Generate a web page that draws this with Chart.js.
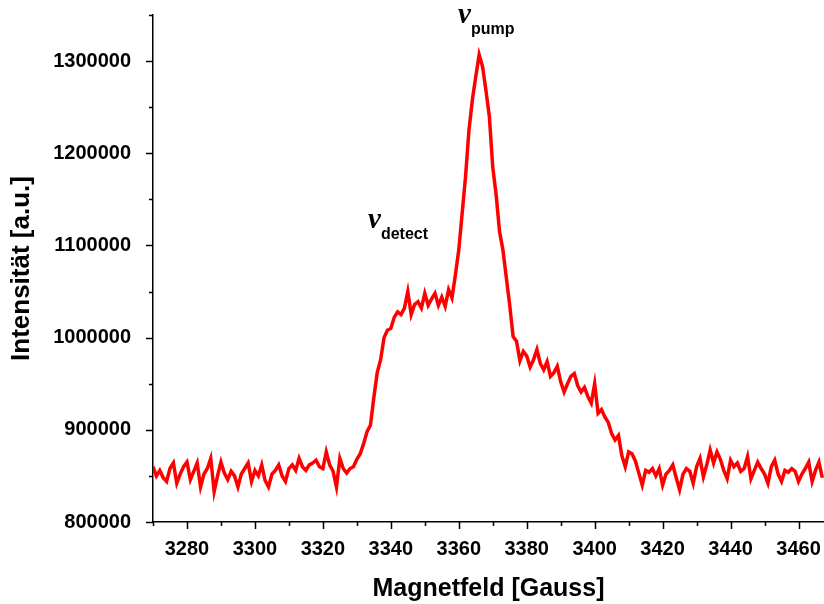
<!DOCTYPE html>
<html>
<head>
<meta charset="utf-8">
<script src="https://cdn.jsdelivr.net/npm/chart.js@4/dist/chart.umd.min.js"></script>
<style>
  html, body { margin: 0; padding: 0; background: #fff; }
  #epr { display: block; }
</style>
</head>
<body>
<canvas id="epr" width="824" height="604"></canvas>
<script>
// magnetic field in Gauss, one reading per Gauss
const fieldG = [];
for (let g = 3270; g <= 3467; g++) fieldG.push(g);

// intensity in thousands (a.u.)
const intensityK = [
  860, 850, 856, 848, 844, 858, 864, 842, 852, 860,   // 3270
  865, 846, 855, 864, 838, 852, 858, 869, 833, 850,   // 3280
  865, 853, 846, 855, 850, 838, 852, 858, 864, 844,   // 3290
  856, 850, 862, 845, 838, 852, 856, 862, 850, 844,   // 3300
  858, 862, 856, 869, 860, 856, 862, 864, 867, 860,   // 3310
  858, 876, 862, 855, 838, 869, 858, 853, 858, 860,   // 3320
  868, 874, 885, 898, 905, 935, 962, 976, 1000, 1008, // 3330
  1010, 1022, 1028, 1025, 1032, 1050, 1025, 1036, 1039, 1032, // 3340
  1048, 1035, 1042, 1048, 1035, 1044, 1034, 1052, 1043, 1068, // 3350
  1095, 1135, 1175, 1225, 1258, 1283, 1307, 1294, 1268, 1240, // 3360
  1185, 1155, 1115, 1095, 1065, 1035, 1001, 996, 975, 985,    // 3370
  980, 968, 976, 987, 972, 965, 974, 958, 962, 969,   // 3380
  952, 941, 950, 958, 961, 948, 941, 946, 936, 929,   // 3390
  950, 918, 922, 914, 908, 896, 889, 894, 872, 860,   // 3400
  876, 874, 866, 853, 840, 856, 854, 858, 850, 858,   // 3410
  840, 852, 856, 862, 848, 835, 852, 858, 855, 842,   // 3420
  860, 869, 849, 862, 878, 864, 876, 868, 856, 847,   // 3430
  867, 860, 864, 855, 858, 871, 847, 856, 865, 858,   // 3440
  852, 842, 860, 867, 852, 844, 856, 854, 858, 855,   // 3450
  844, 852, 858, 865, 844, 856, 865, 848              // 3460
];

const xTickLabels = [3280, 3300, 3320, 3340, 3360, 3380, 3400, 3420, 3440, 3460];
const yTickLabels = [800000, 900000, 1000000, 1100000, 1200000, 1300000];

const points = fieldG.map((g, i) => ({ x: g, y: intensityK[i] * 1000 }));

// outward ticks, long on labelled values, short in between
const tickMarks = {
  id: 'tickMarks',
  afterDraw(chart) {
    const { ctx, scales: { x, y }, chartArea } = chart;
    ctx.save();
    ctx.strokeStyle = '#000';
    ctx.lineWidth = 1.5;
    ctx.beginPath();
    for (let v = 3270; v <= 3467; v += 10) {
      const px = Math.round(x.getPixelForValue(v)) + 0.5;
      const len = v % 20 === 0 ? 7 : 4;
      ctx.moveTo(px, chartArea.bottom);
      ctx.lineTo(px, chartArea.bottom + len);
    }
    for (let v = 800000; v <= 1350000; v += 50000) {
      const py = Math.round(y.getPixelForValue(v)) + 0.5;
      const len = v % 100000 === 0 ? 7 : 4;
      ctx.moveTo(chartArea.left, py);
      ctx.lineTo(chartArea.left - len, py);
    }
    ctx.stroke();
    ctx.restore();
  }
};

// ν labels with subscripts beside the two features
const nuLabels = {
  id: 'nuLabels',
  afterDraw(chart) {
    const { ctx, scales: { x, y } } = chart;
    const marks = [
      { g: 3333.3, v: 1119000, sub: 'detect' },
      { g: 3359.8, v: 1341400, sub: 'pump' }
    ];
    ctx.save();
    ctx.fillStyle = '#000';
    ctx.textBaseline = 'alphabetic';
    ctx.textAlign = 'left';
    marks.forEach(m => {
      const px = x.getPixelForValue(m.g);
      const py = y.getPixelForValue(m.v);
      ctx.font = 'italic bold 29px "Liberation Serif", serif';
      ctx.fillText('ν', px, py);
      const w = ctx.measureText('ν').width;
      ctx.font = 'bold 16px "Liberation Sans", Arial, sans-serif';
      ctx.fillText(m.sub, px + w, py + 11);
    });
    ctx.restore();
  }
};

const tickFont = { family: '"Liberation Sans", Arial, sans-serif', size: 20, weight: 'bold' };
const xTitleFont = { family: '"Liberation Sans", Arial, sans-serif', size: 25, weight: 'bold' };
const yTitleFont = { family: '"Liberation Sans", Arial, sans-serif', size: 26, weight: 'bold' };

new Chart(document.getElementById('epr').getContext('2d'), {
  type: 'line',
  data: {
    datasets: [{
      data: points,
      borderColor: '#ff0000',
      borderWidth: 3.5,
      pointRadius: 0,
      tension: 0,
      fill: false
    }]
  },
  options: {
    responsive: false,
    animation: false,
    layout: { padding: { top: 15, right: 0, left: 0, bottom: 0 } },
    plugins: {
      legend: { display: false },
      tooltip: { enabled: false }
    },
    scales: {
      x: {
        type: 'linear',
        min: 3270,
        max: 3467.5,
        grid: { display: false },
        border: { display: true, color: '#000', width: 1.5 },
        afterBuildTicks: s => { s.ticks = xTickLabels.map(v => ({ value: v })); },
        ticks: { font: tickFont, color: '#000', padding: 7, maxRotation: 0, autoSkip: false, callback: v => String(v) },
        title: { display: true, text: 'Magnetfeld [Gauss]', font: xTitleFont, color: '#000', padding: { top: 0, bottom: 0 } },
        afterFit: s => { s.height = 82; s.paddingLeft = 0; s.paddingRight = 0; }
      },
      y: {
        type: 'linear',
        min: 800000,
        max: 1350000,
        grid: { display: false },
        border: { display: true, color: '#000', width: 1.5 },
        afterBuildTicks: s => { s.ticks = yTickLabels.map(v => ({ value: v })); },
        ticks: { font: tickFont, color: '#000', padding: 14, autoSkip: false, callback: v => String(v) },
        title: { display: true, text: 'Intensität [a.u.]', font: yTitleFont, color: '#000', padding: { top: 6, bottom: 0 } },
        afterFit: s => { s.width = 153; s.paddingTop = 0; s.paddingBottom = 0; }
      }
    }
  },
  plugins: [tickMarks, nuLabels]
});
</script>
</body>
</html>
